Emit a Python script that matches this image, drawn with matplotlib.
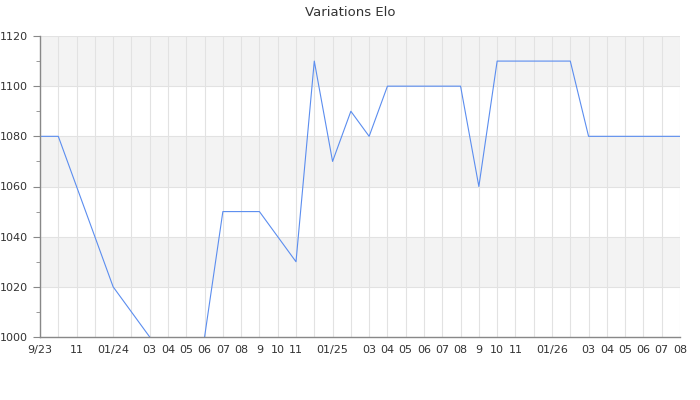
import matplotlib
matplotlib.use('Agg')
import matplotlib.pyplot as plt

# monthly Elo values, Sep 2023 -> Aug 2026
elo = [1080, 1080, 1060, 1040, 1020, 1010, 1000, 990, 990, 1000,
       1050, 1050, 1050, 1040, 1030, 1110, 1070, 1090, 1080, 1100,
       1100, 1100, 1100, 1100, 1060, 1110, 1110, 1110, 1110, 1110,
       1080, 1080, 1080, 1080, 1080, 1080]
month_labels = ['9/23', '', '11', '', '01/24', '', '03', '04', '05', '06',
                '07', '08', '9', '10', '11', '', '01/25', '', '03', '04',
                '05', '06', '07', '08', '9', '10', '11', '', '01/26', '',
                '03', '04', '05', '06', '07', '08']
y_min, y_max, y_step = 1000, 1120, 20

fig = plt.figure(figsize=(7, 4), dpi=100)
ax = fig.add_axes([40/700, 63/400, 640/700, 301/400])

x = range(len(elo))

# alternating horizontal bands
for i, lo in enumerate(range(y_min, y_max, y_step)):
    if i % 2 == 1:
        ax.axhspan(lo, lo + y_step, color='#f3f3f3', zorder=0, lw=0)

for xi in x:
    ax.axvline(xi, color='#e2e2e2', lw=0.8, zorder=1)
for yv in range(y_min, y_max + 1, y_step):
    ax.axhline(yv, color='#e2e2e2', lw=0.8, zorder=1)

ax.plot(x, elo, color='#5b8def', lw=0.8, zorder=3)

ax.set_xlim(0, len(elo) - 1)
ax.set_ylim(y_min, y_max)
ax.set_xticks(list(x))
ax.set_xticklabels(month_labels)
ax.set_yticks(range(y_min, y_max + 1, y_step))
ax.set_yticks(range(y_min + 10, y_max, y_step), minor=True)

ax.tick_params(axis='x', length=0, labelsize=8, labelcolor='#333333', pad=6)
ax.tick_params(axis='y', which='major', length=5, color='#888888',
               labelsize=8, labelcolor='#333333')
ax.tick_params(axis='y', which='minor', length=3, color='#888888')

for s in ['top', 'right']:
    ax.spines[s].set_visible(False)
for s in ['left', 'bottom']:
    ax.spines[s].set_color('#888888')
    ax.spines[s].set_linewidth(1)
    ax.spines[s].set_zorder(4)

fig.text(0.5, 1 - 12/400, 'Variations Elo', ha='center', va='center',
         fontsize=9.5, color='#333333')

fig.savefig('out.png', dpi=100)
